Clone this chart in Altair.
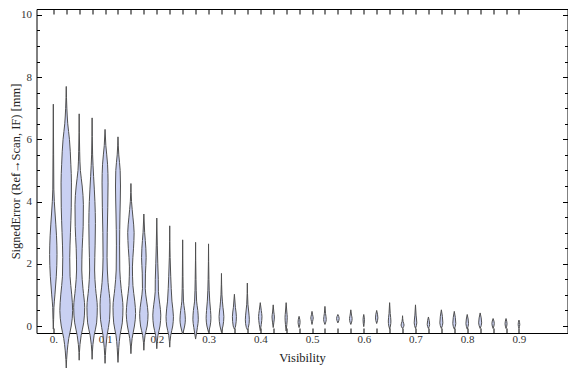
import altair as alt
import pandas as pd

# x positions of the violins (Visibility bins)
positions = [0.0, 0.025, 0.05, 0.075, 0.1, 0.125, 0.15, 0.175, 0.2, 0.225,
             0.25, 0.275, 0.3, 0.325, 0.35, 0.375, 0.4, 0.425, 0.45, 0.475,
             0.5, 0.525, 0.55, 0.575, 0.6, 0.625, 0.65, 0.675, 0.7, 0.725,
             0.75, 0.775, 0.8, 0.825, 0.85, 0.875, 0.9]

# violin profiles: (signed error value, relative density half-width)
profiles = [
    [(7.13, 0), (5.5, 0.3), (4.4, 0.5), (3.6, 1.8), (2.9, 3.2), (2.3, 3.7), (1.6, 3.0), (1.0, 1.6), (0.6, 0.6), (0.2, 0.3), (-0.1, 0)],
    [(7.7, 0), (7.0, 0.6), (6.5, 1.5), (6.0, 3.2), (5.2, 4.6), (4.6, 5.2), (3.8, 5.0), (3.0, 4.2), (2.2, 3.5), (1.6, 3.8), (1.0, 5.5), (0.5, 6.4), (0.0, 5.0), (-0.4, 2.5), (-0.8, 1.0), (-1.35, 0)],
    [(6.82, 0), (5.6, 0.5), (5.0, 1.2), (4.5, 3.0), (3.9, 4.2), (3.2, 4.0), (2.5, 3.0), (1.8, 2.6), (1.2, 3.8), (0.6, 5.5), (0.1, 4.5), (-0.3, 2.0), (-0.6, 0.8), (-1.1, 0)],
    [(6.69, 0), (5.5, 0.5), (4.8, 1.5), (4.0, 2.8), (3.3, 3.3), (2.6, 3.0), (1.8, 2.5), (1.2, 3.5), (0.6, 5.2), (0.1, 4.5), (-0.3, 2.0), (-0.6, 0.8), (-1.07, 0)],
    [(6.32, 0), (5.8, 0.8), (5.2, 2.5), (4.6, 3.0), (3.8, 2.7), (3.0, 2.2), (2.2, 2.0), (1.4, 3.0), (0.7, 5.0), (0.2, 4.5), (-0.3, 2.0), (-0.7, 0.8), (-1.2, 0)],
    [(6.08, 0), (5.5, 0.8), (5.0, 2.2), (4.5, 2.5), (3.6, 2.0), (2.6, 1.6), (1.8, 1.8), (1.2, 3.2), (0.6, 5.0), (0.1, 4.3), (-0.3, 2.0), (-0.7, 0.8), (-1.17, 0)],
    [(4.58, 0), (4.0, 0.6), (3.5, 2.0), (3.0, 3.2), (2.5, 2.6), (1.9, 1.5), (1.3, 2.0), (0.8, 3.8), (0.4, 4.7), (0.0, 3.5), (-0.4, 1.2), (-0.89, 0)],
    [(3.6, 0), (3.0, 0.8), (2.5, 2.0), (2.2, 2.3), (1.7, 1.6), (1.2, 1.4), (0.8, 2.8), (0.4, 4.2), (0.0, 3.3), (-0.3, 1.2), (-0.78, 0)],
    [(3.47, 0), (2.6, 0.5), (2.0, 1.0), (1.5, 1.5), (1.1, 1.6), (0.7, 3.0), (0.35, 4.0), (0.0, 3.2), (-0.3, 1.2), (-0.73, 0)],
    [(3.22, 0), (2.2, 0.4), (1.6, 1.0), (1.2, 1.5), (0.8, 2.2), (0.3, 3.7), (0.0, 3.0), (-0.3, 1.0), (-0.68, 0)],
    [(2.77, 0), (1.6, 0.3), (0.8, 0.8), (0.5, 2.0), (0.2, 2.7), (0.0, 2.0), (-0.26, 0)],
    [(2.69, 0), (1.5, 0.4), (0.8, 1.0), (0.5, 2.2), (0.2, 2.7), (-0.05, 1.8), (-0.42, 0)],
    [(2.64, 0), (1.5, 0.4), (0.8, 1.2), (0.5, 2.0), (0.25, 2.4), (0.0, 1.6), (-0.2, 0)],
    [(1.69, 0), (1.0, 0.5), (0.6, 1.5), (0.3, 2.4), (0.0, 1.5), (-0.2, 0)],
    [(1.02, 0), (0.6, 1.0), (0.3, 2.0), (0.0, 1.2), (-0.1, 0)],
    [(1.38, 0), (0.7, 0.6), (0.45, 1.4), (0.2, 2.0), (-0.05, 1.0), (-0.12, 0)],
    [(0.75, 0), (0.5, 1.0), (0.3, 1.7), (0.05, 1.0), (-0.15, 0)],
    [(0.68, 0), (0.45, 0.6), (0.29, 1.2), (0.1, 0.6), (-0.05, 0)],
    [(0.75, 0), (0.45, 0.7), (0.28, 1.1), (0.05, 0.7), (-0.16, 0)],
    [(0.31, 0), (0.2, 0.8), (0.12, 1.0), (0.0, 0.4), (-0.05, 0)],
    [(0.47, 0), (0.36, 0.6), (0.26, 1.2), (0.15, 0.6), (0.05, 0)],
    [(0.63, 0), (0.4, 0.6), (0.21, 1.3), (0.1, 0.6), (0.05, 0)],
    [(0.37, 0), (0.24, 1.3), (0.1, 0)],
    [(0.52, 0), (0.35, 0.7), (0.24, 1.3), (0.1, 0.6), (0.05, 0)],
    [(0.37, 0), (0.2, 0.7), (-0.02, 0)],
    [(0.5, 0), (0.26, 1.2), (0.08, 0)],
    [(0.75, 0), (0.4, 0.6), (0.16, 1.3), (0.0, 0.8), (-0.1, 0)],
    [(0.33, 0), (0.15, 0.5), (0.03, 1.5), (-0.08, 0)],
    [(0.68, 0), (0.35, 0.6), (0.1, 1.3), (-0.08, 0)],
    [(0.29, 0), (0.05, 1.2), (-0.08, 0)],
    [(0.52, 0), (0.1, 1.5), (-0.08, 0)],
    [(0.47, 0), (0.08, 1.5), (-0.1, 0)],
    [(0.37, 0), (0.08, 1.3), (-0.1, 0)],
    [(0.42, 0), (0.1, 1.5), (-0.08, 0)],
    [(0.24, 0), (0.08, 1.2), (-0.08, 0)],
    [(0.24, 0), (0.07, 1.0), (-0.08, 0)],
    [(0.19, 0), (0.05, 0.8), (-0.08, 0)],
]

y_major = [0, 2, 4, 6, 8, 10]
y_minor = [0.5, 1, 1.5, 2.5, 3, 3.5, 4.5, 5, 5.5, 6.5, 7, 7.5, 8.5, 9, 9.5]

rows = []
for i, (p, prof) in enumerate(zip(positions, profiles)):
    for v, w in sorted(prof):
        rows.append({"g": i, "pos": p, "v": v, "w": w})
df = pd.DataFrame(rows)

K = 0.00193  # density -> x units
FONT = "Liberation Serif"
LABEL_COLOR = "#333333"

xscale = alt.Scale(domain=[-0.0325, 0.9938], nice=False, zero=False)
yscale = alt.Scale(domain=[-0.225, 10.19], nice=False, zero=False)

x_label_expr = ("datum.value == 0 ? '0.' : (round(datum.value * 40) % 4 == 0 ? "
                "format(datum.value, '.1f') : '')")

violins = alt.Chart(df).transform_calculate(
    xa=f"datum.pos - {K} * datum.w",
    xb=f"datum.pos + {K} * datum.w",
).mark_area(
    orient="horizontal", interpolate="monotone",
    fill="#c9d0f2", stroke="#505050", strokeWidth=1, fillOpacity=1,
).encode(
    y=alt.Y("v:Q", scale=yscale, axis=alt.Axis(
        orient="left", values=y_major, tickSize={"expr": "-5"},
        labelPadding=10, title="SignedError (Ref\u2192Scan, IF) [mm]",
        titleX=-14, titleBaseline="bottom")),
    x=alt.X("xa:Q", scale=xscale, axis=alt.Axis(
        orient="bottom", values=positions, tickSize={"expr": "-5"},
        labelExpr=x_label_expr, labelPadding=5, title="Visibility",
        titlePadding=7)),
    x2="xb:Q",
    detail="g:N",
)

anchor = pd.DataFrame({"pos": [0.0], "v": [0.0]})

frame_top_right = alt.Chart(anchor).mark_point(opacity=0).encode(
    x=alt.X("pos:Q", scale=xscale, axis=alt.Axis(
        orient="top", values=positions, tickSize={"expr": "-5"},
        labels=False, title=None)),
    y=alt.Y("v:Q", scale=yscale, axis=alt.Axis(
        orient="right", values=y_major, tickSize={"expr": "-5"},
        labels=False, title=None)),
)

minor_left = alt.Chart(anchor).mark_point(opacity=0).encode(
    x=alt.X("pos:Q", scale=xscale, axis=None),
    y=alt.Y("v:Q", scale=yscale, axis=alt.Axis(
        orient="left", values=y_minor, tickSize={"expr": "-3"},
        labels=False, title=None)),
)

minor_right = alt.Chart(anchor).mark_point(opacity=0).encode(
    x=alt.X("pos:Q", scale=xscale, axis=None),
    y=alt.Y("v:Q", scale=yscale, axis=alt.Axis(
        orient="right", values=y_minor, tickSize={"expr": "-3"},
        labels=False, title=None)),
)

chart = alt.layer(violins, frame_top_right, minor_left, minor_right).resolve_axis(
    x="independent", y="independent"
).properties(
    width=531, height=324,
    autosize=alt.AutoSizeParams(type="none"),
    padding={"left": 28.5, "top": 1, "right": 0.5, "bottom": 36},
).configure_view(
    stroke="#000000", strokeWidth=1,
).configure_axis(
    domain=False, grid=False, tickColor="#000000", tickWidth=1,
    labelFont=FONT, labelFontSize=11, labelColor=LABEL_COLOR,
    titleFont=FONT, titleFontSize=12.5, titleFontWeight="normal", titleColor="#222222",
)

chart.save("out.html", embed_options={"renderer": "svg", "actions": False})
